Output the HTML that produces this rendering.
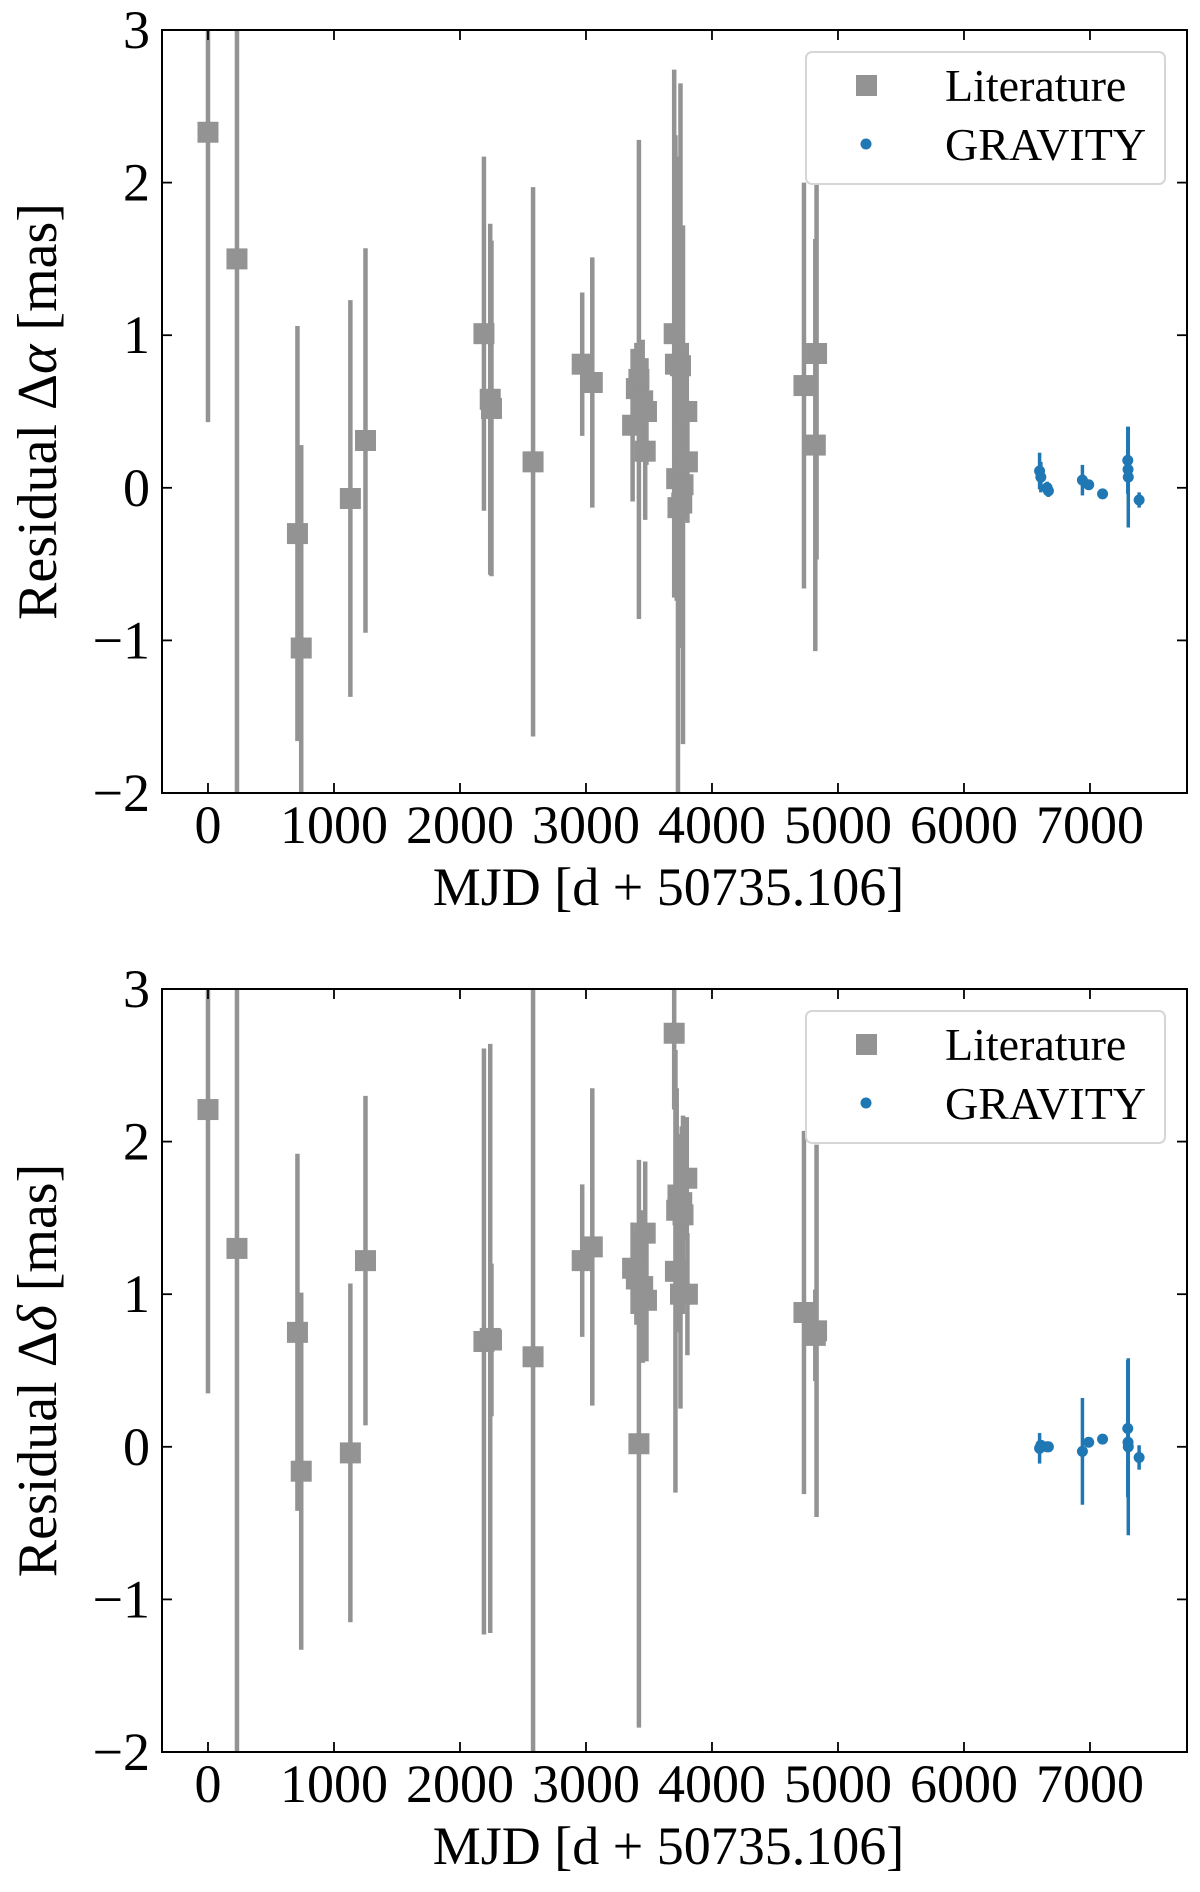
<!DOCTYPE html>
<html><head><meta charset="utf-8"><style>
html,body{margin:0;padding:0;background:#fff;}
svg{display:block;font-family:"Liberation Serif","DejaVu Serif",serif;}
</style></head><body>
<svg id="fig" width="1200" height="1892" viewBox="0 0 1200 1892" xmlns="http://www.w3.org/2000/svg"></svg>
<script>
// ---- data ----
const litX = [0,230,710,740,1130,1250,2190,2240,2250,2580,2970,3050,3370,3400,3420,3450,3470,3480,3700,3710,3720,3730,3750,3760,3770,3800,3805,4730,4830,4820];
const litRA = [2.33,1.5,-0.3,-1.05,-0.07,0.31,1.01,0.58,0.52,0.17,0.81,0.69,0.41,0.65,0.71,0.57,0.24,0.5,1.01,0.81,0.06,-0.13,0.8,-0.1,0.02,0.5,0.17,0.67,0.88,0.28];
const litRAerr = [1.9,3.6,1.36,1.33,1.3,1.26,1.16,1.15,1.1,1.8,0.47,0.82,0.5,0.3,1.57,0.4,0.45,0.35,1.73,1.5,0.8,2.3,1.85,0.25,1.7,0.45,0.4,1.33,1.35,1.35];
const litDec = [2.21,1.3,0.75,-0.16,-0.04,1.22,0.69,0.71,0.7,0.59,1.22,1.31,1.17,1.1,0.02,1.05,1.4,0.96,2.71,1.15,1.55,1.65,1.0,1.6,1.52,1.76,1.0,0.88,0.76,0.73];
const litDecErr = [1.86,3.5,1.17,1.17,1.11,1.08,1.92,1.93,0.5,3.5,0.5,1.04,0.3,0.3,1.86,0.5,0.47,0.4,0.5,1.45,0.8,0.4,0.75,0.5,0.65,0.4,0.4,1.19,1.22,0.3];
const gravX = [6600,6610,6660,6670,6940,6990,7100,7300,7302,7304,7390];
const gravRA = [0.11,0.07,0.0,-0.02,0.05,0.02,-0.04,0.18,0.12,0.07,-0.08];
const gravRAerr = [0.12,0.1,0.04,0.04,0.1,0.02,0.02,0.22,0.1,0.33,0.05];
const gravDec = [-0.01,0.01,0.0,0.0,-0.03,0.03,0.05,0.12,0.03,0.0,-0.07];
const gravDecErr = [0.1,0.03,0.03,0.03,0.35,0.03,0.02,0.45,0.05,0.58,0.08];
const xTicks = [0,1000,2000,3000,4000,5000,6000,7000];
const yTicks = [-2,-1,0,1,2,3];

const NS="http://www.w3.org/2000/svg";
const svg=document.getElementById('fig');
function mk(tag,attrs,parent){const e=document.createElementNS(NS,tag);for(const k in attrs)e.setAttribute(k,attrs[k]);(parent||svg).appendChild(e);return e;}

const L=162,R=1187,XMIN=-365,XMAX=7770;
function sx(v){return L+(v-XMIN)/(XMAX-XMIN)*(R-L);}

function panel(top,bot,yLabelSym,ra,raErr,gv,gvErr,name){
  const g=mk('g',{});
  
  
  function sy(v){return bot-(v+2)/5*(bot-top);}
  const clip=mk('clipPath',{id:'c'+name},g);
  mk('rect',{x:L,y:top,width:R-L,height:bot-top},clip);
  const marks=mk('g',{'clip-path':'url(#c'+name+')'},g);
  for(let i=0;i<litX.length;i++){
    const x=sx(litX[i]);
    const ln=mk('line',{x1:x,x2:x,y1:sy(ra[i]-raErr[i]),y2:sy(ra[i]+raErr[i]),stroke:'#939393','stroke-width':4.5},marks);
    
    
  }
  for(let i=0;i<litX.length;i++){
    const r=mk('rect',{x:sx(litX[i])-10.5,y:sy(ra[i])-10.5,width:21,height:21,fill:'#939393'},marks);
    
    
  }
  for(let i=0;i<gravX.length;i++){
    const x=sx(gravX[i]);
    const ln=mk('line',{x1:x,x2:x,y1:sy(gv[i]-gvErr[i]),y2:sy(gv[i]+gvErr[i]),stroke:'#1f77b4','stroke-width':3.5},marks);
    
    
    const c=mk('circle',{cx:x,cy:sy(gv[i]),r:5.5,fill:'#1f77b4'},marks);
    
    
  }
  const fr=mk('rect',{x:L,y:top,width:R-L,height:bot-top,fill:'none',stroke:'#000','stroke-width':2},g);
  
  
  for(const t of xTicks){
    const x=sx(t);
    mk('line',{x1:x,x2:x,y1:bot,y2:bot-10,stroke:'#000','stroke-width':1.8},g);
    mk('line',{x1:x,x2:x,y1:top,y2:top+10,stroke:'#000','stroke-width':1.8},g);
    const tx=mk('text',{x:x,y:bot+50,'text-anchor':'middle','font-size':54},g);
    tx.textContent=String(t);
    
    
  }
  for(const t of yTicks){
    const y=sy(t);
    mk('line',{x1:L,x2:L+10,y1:y,y2:y,stroke:'#000','stroke-width':1.8},g);
    mk('line',{x1:R,x2:R-10,y1:y,y2:y,stroke:'#000','stroke-width':1.8},g);
    const tx=mk('text',{x:L-12,y:y+18,'text-anchor':'end','font-size':54},g);
    tx.textContent=t<0?'\u2212'+Math.abs(t):String(t);
    
    
  }
  const xl=mk('text',{x:(L+R)/2-6,y:bot+112,'text-anchor':'middle','font-size':54},g);
  xl.textContent='MJD [d + 50735.106]';
  
  
  const cy=(top+bot)/2;
  const yl=mk('text',{x:0,y:0,'text-anchor':'middle','font-size':56,transform:'translate(56,'+cy+') rotate(-90)'},g);
  yl.innerHTML='Residual \u0394<tspan font-style="italic">'+yLabelSym+'</tspan> [mas]';
  
  
  const lg=mk('g',{},g);
  
  
  mk('rect',{x:806,y:top+22,width:359,height:132,rx:6,fill:'#fff',stroke:'#d6d6d6','stroke-width':2},lg);
  mk('rect',{x:856,y:top+45,width:21,height:21,fill:'#939393'},lg);
  mk('circle',{cx:866,cy:top+114,r:5.5,fill:'#1f77b4'},lg);
  const t1=mk('text',{x:945,y:top+71,'font-size':46},lg);t1.textContent='Literature';
  
  
  const t2=mk('text',{x:945,y:top+130,'font-size':46},lg);t2.textContent='GRAVITY';
  
  
}
panel(30,793,'\u03b1',litRA,litRAerr,gravRA,gravRAerr,'ra');
panel(989,1752,'\u03b4',litDec,litDecErr,gravDec,gravDecErr,'dec');
</script>
</body></html>
